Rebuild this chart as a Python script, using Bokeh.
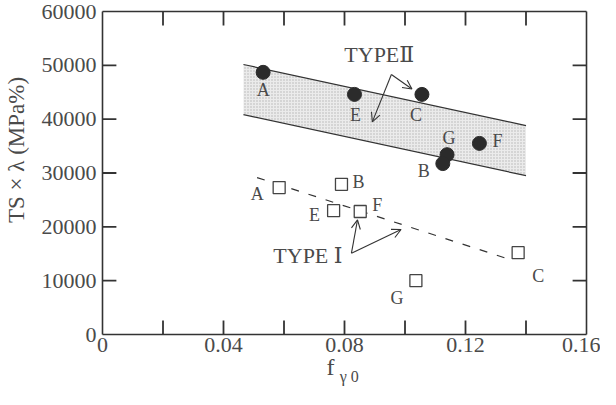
from bokeh.plotting import figure
from bokeh.models import (Range1d, LinearAxis, FixedTicker, Arrow, OpenHead, Label,
                          ColumnDataSource, BasicTickFormatter)
from bokeh.core.properties import value
from bokeh.embed import file_html
from bokeh.resources import INLINE

# ---------------- data ----------------
# TYPE II (filled circles)
t2_names = ["A", "E", "C", "G", "B", "F"]
t2_f = [0.0531, 0.0833, 0.1056, 0.1139, 0.1125, 0.1246]
t2_ts = [48700, 44600, 44600, 33400, 31750, 35500]
# TYPE I (open squares)
t1_names = ["A", "B", "E", "F", "C", "G"]
t1_f = [0.0584, 0.0790, 0.0764, 0.0852, 0.1374, 0.1036]
t1_ts = [27300, 27900, 23000, 22850, 15200, 10000]
# TYPE II scatter band
band_f = [0.0466, 0.1400]
band_upper = [50150, 38800]
band_lower = [40850, 29500]
# TYPE I trend line
trend1_f = [0.0511, 0.1357]
trend1_ts = [29150, 13750]
# ticks
x_ticks = [0, 0.04, 0.08, 0.12, 0.16]
x_minor = [0.02, 0.06, 0.10, 0.14]
y_ticks = [0, 10000, 20000, 30000, 40000, 50000, 60000]

# label offsets (screen px) for point letters
t2_dx = [0, 1, -6, 2, -19, 18]
t2_dy = [18, 21, 21, -17, 7, -2]
t1_dx = [-22, 17, -19, 17, 20, -19]
t1_dy = [6, -2, 4, -6, 23, 17]

FONT = "Liberation Serif"
FONT_NUM = "Liberation Serif, DejaVu Serif"
TXT = "#4a4a4a"
LN = "#333333"

X0, X1 = 0, 0.16
Y0, Y1 = 0, 60000
W, H = 600, 389
BL, BR, BT, BB = 98, 14, 11, 55
FW, FH = W - BL - BR, H - BT - BB
TICK_PX = 14

p = figure(width=W, height=H, x_range=Range1d(X0, X1), y_range=Range1d(Y0, Y1),
           output_backend="svg", toolbar_location=None,
           min_border_left=BL, min_border_right=BR, min_border_top=BT, min_border_bottom=BB)
p.xgrid.visible = False
p.ygrid.visible = False
p.outline_line_color = None
p.background_fill_color = "white"
p.border_fill_color = "white"


def style_axis(ax, size="22px"):
    ax.axis_line_color = LN
    ax.axis_line_width = 1.6
    ax.major_tick_in = 0
    ax.major_tick_out = 0
    ax.minor_tick_in = 0
    ax.minor_tick_out = 0
    ax.major_tick_line_color = None
    ax.minor_tick_line_color = None
    ax.major_label_text_font = FONT
    ax.major_label_text_font_size = size
    ax.major_label_text_color = TXT


xa = p.xaxis[0]
style_axis(xa)
xa.ticker = FixedTicker(ticks=x_ticks, minor_ticks=[])
xa.major_label_overrides = {t: ("0" if t == 0 else f"{t:g}") for t in x_ticks}
xa.major_label_standoff = 3

ya = p.yaxis[0]
style_axis(ya)
ya.ticker = FixedTicker(ticks=y_ticks, minor_ticks=[])
ya.formatter = BasicTickFormatter(use_scientific=False)
ya.major_label_standoff = 6
ya.axis_label = "\u2003\u2003TS × λ (MPa%)"
ya.axis_label_text_font = FONT
ya.axis_label_text_font_size = "23px"
ya.axis_label_text_font_style = "normal"
ya.axis_label_text_color = TXT
ya.axis_label_standoff = 10

top = LinearAxis(ticker=FixedTicker(ticks=[], minor_ticks=[]))
style_axis(top)
p.add_layout(top, "above")
right = LinearAxis(ticker=FixedTicker(ticks=[], minor_ticks=[]))
style_axis(right)
p.add_layout(right, "right")

# x axis title "f" with subscript "γ 0", placed as tick labels of two extra bare axes
XLAB_F, XLAB_G = 0.0754, 0.0816
ax_f = LinearAxis(ticker=FixedTicker(ticks=[XLAB_F], minor_ticks=[]),
                  major_label_overrides={XLAB_F: "f"})
style_axis(ax_f, "24px")
ax_f.axis_line_color = None
ax_f.major_label_standoff = -1
p.add_layout(ax_f, "below")
ax_g = LinearAxis(ticker=FixedTicker(ticks=[XLAB_G], minor_ticks=[]),
                  major_label_overrides={XLAB_G: "γ 0"})
style_axis(ax_g, "16px")
ax_g.axis_line_color = None
ax_g.major_label_standoff = -15
p.add_layout(ax_g, "below")

# inward tick marks on all four sides
dx_tick = TICK_PX * (X1 - X0) / FW
dy_tick = TICK_PX * (Y1 - Y0) / FH
all_x = sorted(x_ticks + x_minor)[1:-1]
inner_y = y_ticks[1:-1]
tick_src = ColumnDataSource(dict(
    xs=all_x + all_x + [X0] * len(inner_y) + [X1] * len(inner_y),
    ys=[Y0] * len(all_x) + [Y1] * len(all_x) + inner_y + inner_y,
    xe=all_x + all_x + [X0 + dx_tick] * len(inner_y) + [X1 - dx_tick] * len(inner_y),
    ye=[Y0 + dy_tick] * len(all_x) + [Y1 - dy_tick] * len(all_x) + inner_y + inner_y,
))
p.segment(x0="xs", y0="ys", x1="xe", y1="ye", source=tick_src,
          line_color=LN, line_width=1.8)

# shaded TYPE II band
p.varea(x=band_f, y1=band_lower, y2=band_upper, fill_color="#ebebeb",
        hatch_pattern="dot", hatch_color="#b4b4b4", hatch_scale=3, hatch_weight=1)
p.line(band_f, band_upper, line_color=LN, line_width=1.2)
p.line(band_f, band_lower, line_color=LN, line_width=1.2)

# TYPE I dashed trend
p.line(trend1_f, trend1_ts, line_color=LN, line_width=1.2, line_dash="8 10")

src2 = ColumnDataSource(dict(x=t2_f, y=t2_ts, name=t2_names, dx=t2_dx, dy=t2_dy))
src1 = ColumnDataSource(dict(x=t1_f, y=t1_ts, name=t1_names, dx=t1_dx, dy=t1_dy))

p.scatter("x", "y", source=src2, marker="circle", size=14, fill_color="#2b2b2b",
          line_color="#2b2b2b")
p.scatter("x", "y", source=src1, marker="square", size=12, fill_color="white",
          line_color="#444444", line_width=1.3)

for src in (src1, src2):
    p.text("x", "y", text="name", source=src, x_offset="dx", y_offset="dy",
           text_font=value(FONT), text_font_size="18px", text_color=TXT,
           text_align="center", text_baseline="middle")

# annotations
p.add_layout(Label(x=0.0915, y=52000, text="TYPEⅡ", text_font=FONT_NUM, text_font_size="22px",
                   text_color=TXT, text_align="center", text_baseline="middle"))
p.add_layout(Label(x=0.0679, y=14700, text="TYPE Ⅰ", text_font=FONT_NUM, text_font_size="22px",
                   text_color=TXT, text_align="center", text_baseline="middle"))

for (xs, ys, xe, ye) in [(0.0955, 48300, 0.1023, 45600), (0.0955, 48300, 0.0892, 39500),
                         (0.0823, 15100, 0.0843, 21300), (0.0823, 15100, 0.0987, 19500)]:
    p.add_layout(Arrow(end=OpenHead(size=9, line_color=LN, line_width=1.1),
                       x_start=xs, y_start=ys, x_end=xe, y_end=ye,
                       line_color=LN, line_width=1.1))

open("out.html", "w").write(file_html(p, INLINE))
